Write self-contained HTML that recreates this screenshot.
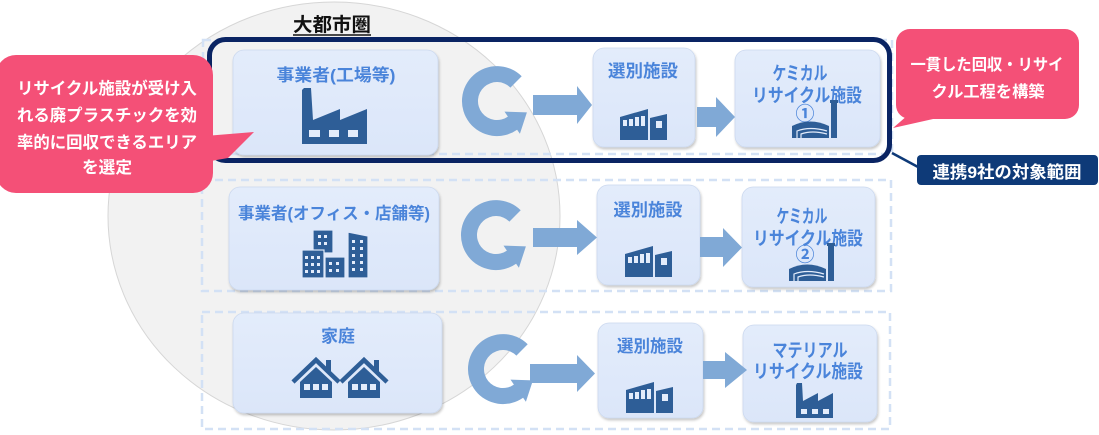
<!DOCTYPE html>
<html><head><meta charset="utf-8">
<style>
html,body{margin:0;padding:0;background:#fff;}
svg{display:block;}
text{font-family:"Liberation Sans","Noto Sans CJK JP",sans-serif;font-weight:700;}
.bl{fill:#4a84da;}
.wh{fill:#fff;}
.ic{fill:#2e5e97;}
.ar{fill:#80a9d6;}
</style></head>
<body>
<svg width="1099" height="435" viewBox="0 0 1099 435" xmlns="http://www.w3.org/2000/svg">
<defs>
<filter id="sh" x="-10%" y="-10%" width="125%" height="130%">
<feDropShadow dx="1" dy="2" stdDeviation="1.4" flood-color="#000" flood-opacity="0.22"/>
</filter>
<linearGradient id="bx" x1="0" y1="0" x2="0" y2="1">
<stop offset="0" stop-color="#e3ecfb"/><stop offset="1" stop-color="#dbe6f9"/>
</linearGradient>
<g id="carrow">
<path d="M24.7,-24.7 A35,35 0 1 0 20.1,28.7 L22.9,32.8 L29.9,11.4 L7.5,10.6 L10.9,15.6 A19,19 0 1 1 13.4,-13.4 Z" fill="#80a9d6"/>
</g>
</defs>

<!-- big metro ellipse -->
<ellipse cx="334" cy="216" rx="226" ry="214" fill="#f2f2f2" stroke="#d6d6d6" stroke-width="1"/>

<!-- dashed rows -->
<g fill="none" stroke="#d3e1f5" stroke-width="2.5" stroke-dasharray="8 5">
<rect x="203" y="40" width="689" height="114"/>
<rect x="202" y="180" width="689" height="111"/>
<rect x="202" y="312" width="688" height="117"/>
</g>

<!-- navy highlight rect -->
<rect x="209.5" y="39.5" width="680" height="121" rx="16" fill="none" stroke="#0a2463" stroke-width="5"/>

<!-- boxes -->
<g fill="url(#bx)" stroke="#ccd9ef" stroke-width="0.8" filter="url(#sh)">
<rect x="233" y="50" width="205" height="105" rx="11"/>
<rect x="229" y="187" width="210" height="103" rx="11"/>
<rect x="233" y="313" width="209" height="100" rx="11"/>
<rect x="593" y="48" width="102" height="99" rx="11"/>
<rect x="597" y="185" width="103" height="100" rx="11"/>
<rect x="598" y="323" width="105" height="95" rx="11"/>
<rect x="735" y="50" width="145" height="97" rx="11"/>
<rect x="742" y="187" width="133" height="100" rx="11"/>
<rect x="743" y="325" width="134" height="97" rx="11"/>
</g>

<!-- C arrows -->
<use href="#carrow" transform="translate(497,101)"/>
<use href="#carrow" transform="translate(496,235)"/>
<use href="#carrow" transform="translate(503,369)"/>

<!-- horizontal arrows -->
<g class="ar">
<polygon points="533,95 577,95 577,86 592,105 577,124 577,115 533,115"/>
<polygon points="533,228 577,228 577,220 597,237.5 577,255 577,247 533,247"/>
<polygon points="530,364 577,364 577,355 595,373.5 577,392 577,383 530,383"/>
<polygon points="697,107 716,107 716,97 735,117 716,137 716,127 697,127"/>
<polygon points="700,237 723,237 723,228 742,247.5 723,267 723,257 700,257"/>
<polygon points="703,361 725,361 725,352 747,370 725,388 725,379 703,379"/>
</g>

<!-- title -->
<text x="332" y="31" font-size="19" text-anchor="middle" fill="#111" textLength="78" lengthAdjust="spacingAndGlyphs">大都市圏</text>
<line x1="293" y1="35" x2="371" y2="35" stroke="#111" stroke-width="1.5"/>

<!-- box labels -->
<text class="bl" x="336" y="81" font-size="17" text-anchor="middle" textLength="119" lengthAdjust="spacingAndGlyphs">事業者(工場等)</text>
<text class="bl" x="334" y="219" font-size="16.5" text-anchor="middle" textLength="192" lengthAdjust="spacingAndGlyphs">事業者(オフィス・店舗等)</text>
<text class="bl" x="338" y="342" font-size="17" text-anchor="middle" textLength="34" lengthAdjust="spacingAndGlyphs">家庭</text>

<text class="bl" x="643" y="77" font-size="17.5" text-anchor="middle" textLength="70" lengthAdjust="spacingAndGlyphs">選別施設</text>
<text class="bl" x="648" y="216" font-size="17.5" text-anchor="middle" textLength="69" lengthAdjust="spacingAndGlyphs">選別施設</text>
<text class="bl" x="650" y="352" font-size="17" text-anchor="middle" textLength="66" lengthAdjust="spacingAndGlyphs">選別施設</text>

<text class="bl" x="800" y="80" font-size="18.5" text-anchor="middle" textLength="55" lengthAdjust="spacingAndGlyphs">ケミカル</text>
<text class="bl" x="807" y="102" font-size="18.5" text-anchor="middle" textLength="110" lengthAdjust="spacingAndGlyphs">リサイクル施設</text>
<text class="bl" x="805" y="120" font-size="19" text-anchor="middle">①</text>

<text class="bl" x="802" y="223" font-size="18.5" text-anchor="middle" textLength="51" lengthAdjust="spacingAndGlyphs">ケミカル</text>
<text class="bl" x="808" y="245" font-size="18.5" text-anchor="middle" textLength="110" lengthAdjust="spacingAndGlyphs">リサイクル施設</text>
<text class="bl" x="805" y="261" font-size="19" text-anchor="middle">②</text>

<text class="bl" x="810" y="357" font-size="18.5" text-anchor="middle" textLength="75" lengthAdjust="spacingAndGlyphs">マテリアル</text>
<text class="bl" x="808" y="378" font-size="18.5" text-anchor="middle" textLength="110" lengthAdjust="spacingAndGlyphs">リサイクル施設</text>

<!-- factory icon row1 -->
<g class="ic">
<path d="M302,144 L302,90 L304,88 L311,88 L313,120 L340,109 L340,120 L367,109 L367,144 Z"/>
</g>
<g fill="#e3ecfb">
<rect x="309" y="130" width="11" height="7"/>
<rect x="329" y="130" width="10" height="7"/>
<rect x="348" y="130" width="10" height="7"/>
</g>

<!-- buildings icon row2 -->
<g class="ic" stroke="#e0e9fa" stroke-width="1.2">
<rect x="313" y="230" width="20" height="23"/>
<rect x="302" y="250" width="22" height="28"/>
<rect x="325" y="257" width="20" height="21"/>
<polygon points="348,232 368,236 368,278 348,278"/>
</g>
<g fill="#e3ecfb">
<rect x="318" y="235" width="3" height="3"/><rect x="324" y="235" width="3" height="3"/>
<rect x="318" y="242" width="3" height="3"/><rect x="324" y="242" width="3" height="3"/>
<rect x="305" y="256" width="3" height="3"/><rect x="311" y="256" width="3" height="3"/><rect x="317" y="256" width="3" height="3"/>
<rect x="305" y="263" width="3" height="3"/><rect x="311" y="263" width="3" height="3"/><rect x="317" y="263" width="3" height="3"/>
<rect x="305" y="270" width="3" height="3"/><rect x="311" y="270" width="3" height="3"/><rect x="317" y="270" width="3" height="3"/>
<rect x="329" y="262" width="3" height="3"/><rect x="336" y="262" width="3" height="3"/>
<rect x="329" y="269" width="3" height="3"/><rect x="336" y="269" width="3" height="3"/>
<rect x="352" y="240" width="3" height="3"/><rect x="360" y="240" width="3" height="3"/>
<rect x="352" y="247" width="3" height="3"/><rect x="360" y="247" width="3" height="3"/>
<rect x="352" y="254" width="3" height="3"/><rect x="360" y="254" width="3" height="3"/>
<rect x="352" y="261" width="3" height="3"/><rect x="360" y="261" width="3" height="3"/>
<rect x="352" y="268" width="3" height="3"/><rect x="360" y="268" width="3" height="3"/>
</g>

<!-- houses icon row3 -->
<g>
<polyline points="293,382 316,360 339,382" fill="none" stroke="#2e5e97" stroke-width="4.5"/>
<rect class="ic" x="326" y="360" width="5" height="12"/>
<polygon class="ic" points="300,398 300,382 316,367 332,382 332,398"/>
<polyline points="341,382 364,360 387,382" fill="none" stroke="#2e5e97" stroke-width="4.5"/>
<rect class="ic" x="374" y="360" width="5" height="12"/>
<polygon class="ic" points="348,398 348,382 364,367 380,382 380,398"/>
<g fill="#e3ecfb">
<rect x="304" y="384" width="6" height="6"/><rect x="313" y="384" width="6" height="6"/><rect x="322" y="384" width="6" height="6"/>
<rect x="352" y="384" width="6" height="6"/><rect x="361" y="384" width="6" height="6"/><rect x="370" y="384" width="6" height="6"/>
</g>
</g>

<!-- sorting facility icons -->
<g id="sortic">
<polygon class="ic" points="620,117 648,109 648,140 620,140"/>
<polygon class="ic" points="650,118 667,114 667,140 650,140"/>
<g fill="#e3ecfb">
<rect x="623" y="120" width="4" height="6"/><rect x="629" y="119" width="4" height="7"/><rect x="635" y="117" width="4" height="9"/><rect x="641" y="116" width="4" height="10"/>
<rect x="656" y="121" width="6" height="7"/>
</g>
</g>
<use href="#sortic" transform="translate(5,137)"/>
<use href="#sortic" transform="translate(6,273)"/>

<!-- chemical plant icons -->
<g id="plant">
<path class="ic" d="M792,138 L792,126 Q810,117 829,126 L829,138 Z"/>
<rect class="ic" x="831" y="100" width="6" height="38"/>
<rect class="ic" x="830" y="100" width="8" height="3"/>
<path d="M797,138 L797,131 Q810,126 827,131 M801,138 L801,134 Q812,130 827,134" fill="none" stroke="#e3ecfb" stroke-width="1.2"/>
</g>
<use href="#plant" transform="translate(-3,143)"/>

<!-- material factory icon -->
<g class="ic">
<path d="M796,418 L796,385 L797,383 L802,383 L803,401 L818,393 L818,401 L833,393 L833,418 Z"/>
</g>
<g fill="#e3ecfb">
<rect x="801" y="409" width="6" height="5"/><rect x="812" y="409" width="6" height="5"/><rect x="823" y="409" width="6" height="5"/>
</g>

<!-- left pink callout -->
<g fill="#f45077">
<rect x="-4" y="55" width="217" height="138" rx="20"/>
<polygon points="205,136 254,132 228,158 205,162"/>
</g>
<g class="wh" font-size="16.5" text-anchor="middle">
<text class="wh" x="107" y="94" textLength="180" lengthAdjust="spacingAndGlyphs">リサイクル施設が受け入</text>
<text class="wh" x="107" y="121" textLength="180" lengthAdjust="spacingAndGlyphs">れる廃プラスチックを効</text>
<text class="wh" x="107" y="148" textLength="180" lengthAdjust="spacingAndGlyphs">率的に回収できるエリア</text>
<text class="wh" x="107" y="173" textLength="50" lengthAdjust="spacingAndGlyphs">を選定</text>
</g>

<!-- right pink callout -->
<g fill="#f45077">
<rect x="896" y="29" width="183" height="90" rx="14"/>
<polygon points="908,115 942,117 893,128"/>
</g>
<g font-size="16" text-anchor="middle">
<text class="wh" x="987" y="70" textLength="153" lengthAdjust="spacingAndGlyphs">一貫した回収・リサイ</text>
<text class="wh" x="988" y="97" textLength="113" lengthAdjust="spacingAndGlyphs">クル工程を構築</text>
</g>

<!-- navy label -->
<line x1="892" y1="153" x2="918" y2="167" stroke="#0e3a78" stroke-width="2.5"/>
<rect x="917" y="155" width="181" height="30" rx="4" fill="#0e3a78"/>
<text class="wh" x="1007" y="178" font-size="17" text-anchor="middle" textLength="149" lengthAdjust="spacingAndGlyphs">連携9社の対象範囲</text>
</svg>
</body></html>
